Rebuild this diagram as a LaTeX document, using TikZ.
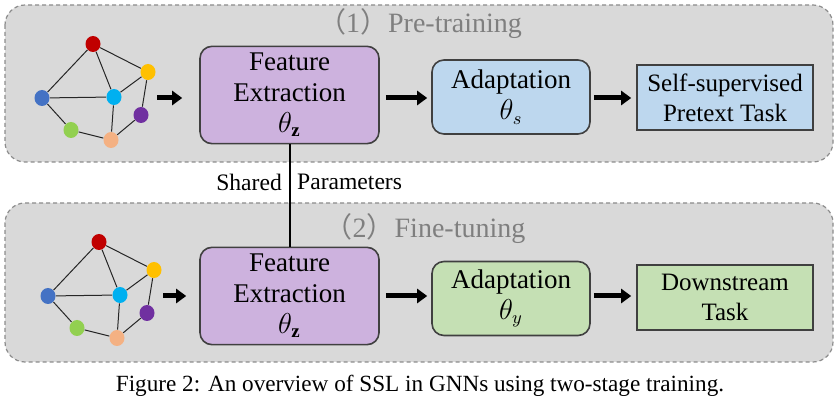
\documentclass[tikz,border=0pt]{standalone}
\usepackage{fontspec}
\setmainfont{Liberation Serif}
\newfontfamily\cjk{Noto Sans CJK SC}
\usetikzlibrary{shapes.geometric,arrows.meta}
\definecolor{panelgray}{HTML}{D9D9D9}
\definecolor{framegray}{HTML}{8C8C8C}
\definecolor{titlegray}{HTML}{7F7F7F}
\definecolor{lavender}{HTML}{CDB2DE}
\definecolor{skyblue}{HTML}{BDD7EE}
\definecolor{leafgreen}{HTML}{C5E0B4}
\definecolor{vred}{HTML}{C00000}
\definecolor{vyellow}{HTML}{FFC000}
\definecolor{vblue}{HTML}{4472C4}
\definecolor{vcyan}{HTML}{00B0F0}
\definecolor{vpurple}{HTML}{7030A0}
\definecolor{vgreen}{HTML}{92D050}
\definecolor{vpeach}{HTML}{F4B183}
\tikzset{
  panel/.style = {draw=framegray, dash pattern=on 2pt off 1.5pt, fill=panelgray,
    rounded corners=10pt, line width=0.6pt},
  vertex/.style = {ellipse, inner sep=0pt, minimum width=7.5pt, minimum height=8pt},
  edge/.style = {draw=black!85, line width=0.5pt},
  stage/.style = {align=center, font=\fontsize{13.5}{15.5}\selectfont,
    draw=black!75, line width=0.8pt, rounded corners=6pt},
  task/.style = {align=center, font=\fontsize{12.5}{15}\selectfont,
    draw=black!75, line width=0.8pt},
  title/.style = {font=\fontsize{14}{16}\selectfont, text=titlegray},
  flow/.style = {-{Triangle[length=5pt,width=7pt]}, line width=2.5pt}
}
\tikzset{>=latex}

\begin{document}
\begin{tikzpicture}[x=0.5pt,y=-0.5pt]
    \useasboundingbox (0,0) rectangle (840,405);
    % the two stages
    \draw[panel] (5,5) rectangle (833,162);
    \node[title] (pretitle) at (420,24) {{\cjk（}1{\cjk）}Pre-training};
    \draw[panel] (5,203) rectangle (833,362);
    \node[title] (finetitle) at (425,229) {{\cjk（}2{\cjk）}Fine-tuning};
    % input graphs
    \foreach \g/\sx/\sy in {a/0/0,b/6/198} {
      \begin{scope}[shift={(\sx,\sy)}, name prefix=\g-]
        \node[vertex,fill=vred] (red) at (93,44) {};
        \node[vertex,fill=vyellow] (yellow) at (148,72) {};
        \node[vertex,fill=vblue] (blue) at (42,98) {};
        \node[vertex,fill=vcyan] (cyan) at (114,97) {};
        \node[vertex,fill=vpurple] (purple) at (141,115) {};
        \node[vertex,fill=vgreen] (green) at (71,130) {};
        \node[vertex,fill=vpeach] (peach) at (111,140) {};
        \foreach \u/\v in {red/blue,red/cyan,red/yellow,blue/cyan,cyan/yellow,
                           blue/green,green/peach,cyan/peach,peach/purple,purple/yellow}
          \draw[edge] (\u) -- (\v);
        \coordinate (out) at (157,98);
      \end{scope}
    }
    % pre-training row
    \node[stage,fill=lavender,minimum width=89.5pt,minimum height=48.5pt] (fe1) at (289.5,95)
      {Feature\\Extraction\\$\theta_{\mathbf{z}}$};
    \node[stage,fill=skyblue,minimum width=79pt,minimum height=37pt] (ada1) at (511,97)
      {Adaptation\\$\theta_s$};
    \node[task,fill=skyblue,minimum width=88pt,minimum height=32.5pt] (task1) at (725,97.5)
      {Self-supervised\\Pretext Task};
    \draw[flow,shorten >=8.5pt] (a-out) -- (a-out -| fe1.west);
    \draw[flow,shorten <=3pt,shorten >=2pt] (fe1.east |- a-out) -- (ada1.west |- a-out);
    \draw[flow,shorten <=1.5pt,shorten >=2.5pt] (ada1.east |- a-out) -- (task1.west |- a-out);
    % fine-tuning row
    \node[stage,fill=lavender,minimum width=89.5pt,minimum height=48.5pt] (fe2) at (289.5,296)
      {Feature\\Extraction\\$\theta_{\mathbf{z}}$};
    \node[stage,fill=leafgreen,minimum width=79pt,minimum height=37pt] (ada2) at (511,298.5)
      {Adaptation\\$\theta_y$};
    \node[task,fill=leafgreen,minimum width=88pt,minimum height=32.5pt] (task2) at (725,297.5)
      {Downstream\\Task};
    \draw[flow,shorten >=6.5pt] (b-out) -- (b-out -| fe2.west);
    \draw[flow,shorten <=3pt,shorten >=2pt] (fe2.east |- b-out) -- (ada2.west |- b-out);
    \draw[flow,shorten <=1.5pt,shorten >=2.5pt] (ada2.east |- b-out) -- (task2.west |- b-out);
    % shared parameters
    \draw[line width=1pt] (fe1.south) -- node[pos=0.37,left,font=\fontsize{11.8}{13}\selectfont] {Shared}
      node[pos=0.37,right,font=\fontsize{11.8}{13}\selectfont] {Parameters} (fe2.north);
    \node[font=\fontsize{11.6}{13}\selectfont] (caption) at (420,386)
      {Figure 2: An overview of SSL in GNNs using two-stage training.};
\end{tikzpicture}
\end{document}
